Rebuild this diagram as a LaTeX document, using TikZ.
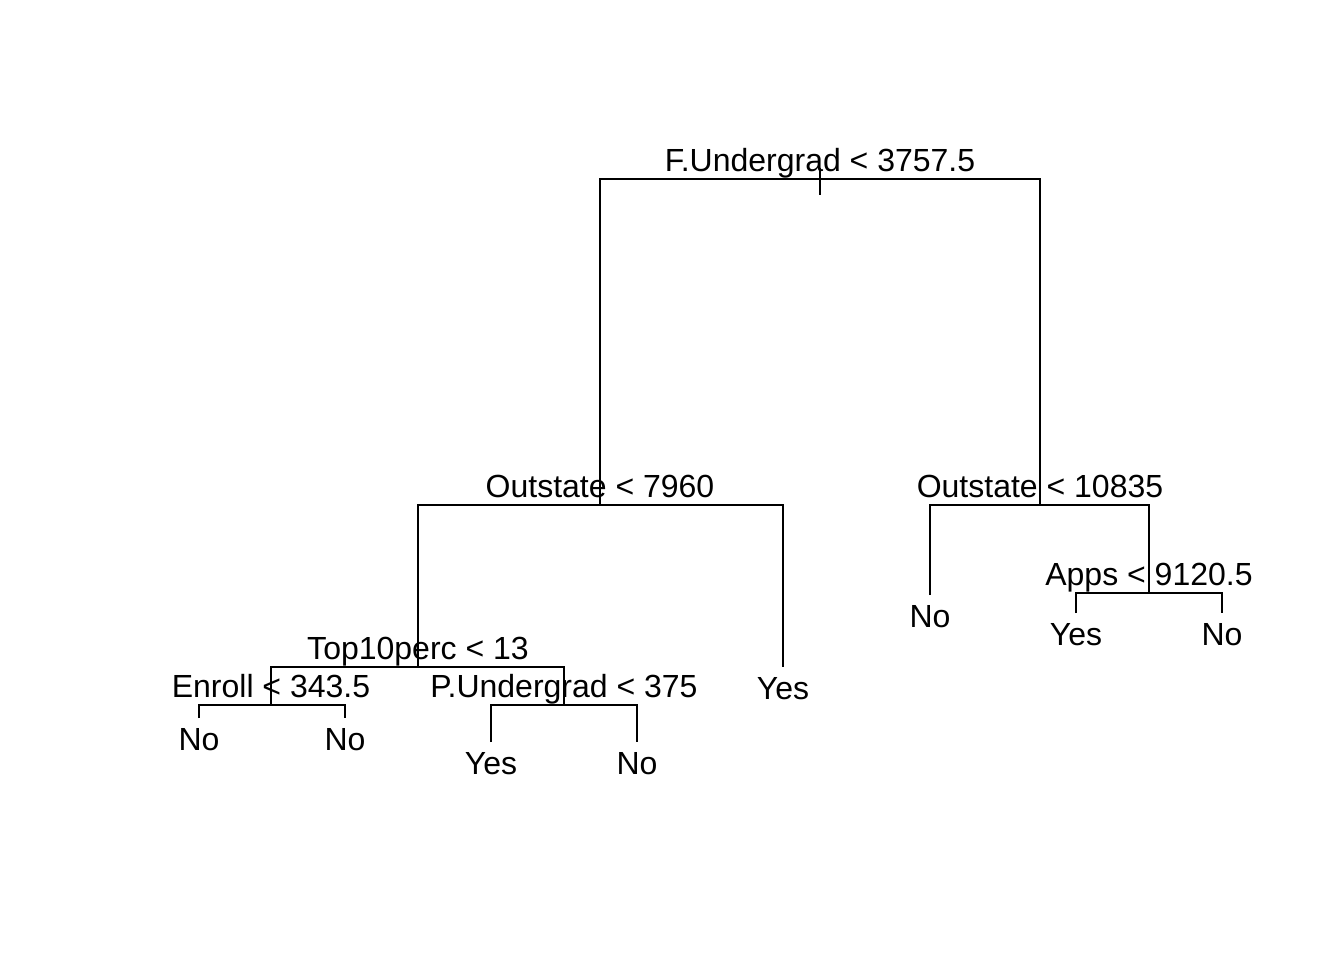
\documentclass[tikz,border=0pt]{standalone}
\usepackage{fontspec}
\setmainfont{Liberation Sans}

\begin{document}
\begin{tikzpicture}[x=0.01cm, y=-0.01cm, line width=0.65pt,
		split/.style={anchor=base, inner sep=0pt, yshift=2.1pt, font=\fontsize{9.1}{11}\selectfont},
		leaf/.style={anchor=base, inner sep=0pt, yshift=-9.1pt, font=\fontsize{9.1}{11}\selectfont}]
		\useasboundingbox (0,0) rectangle (1344,960);
		% split points
		\coordinate (root) at (820,179);
		\coordinate (stubtop) at (820,168);
		\coordinate (stubbot) at (820,195);
		\coordinate (outL) at (600,505);
		\coordinate (outR) at (1040,505);
		\coordinate (top10) at (418,667);
		\coordinate (apps) at (1149,593);
		\coordinate (enroll) at (271,705);
		\coordinate (pug) at (564,705);
		% leaf tips
		\coordinate (tipA) at (783,667);
		\coordinate (tipB) at (930,595);
		\coordinate (tipC) at (1076,613);
		\coordinate (tipD) at (1222,613);
		\coordinate (tipE) at (199,718);
		\coordinate (tipF) at (345,718);
		\coordinate (tipG) at (491,742);
		\coordinate (tipH) at (637,742);
		% branches
		\draw (stubtop) -- (stubbot);
		\draw (outL) |- (root) -| (outR);
		\draw (top10) |- (outL) -| (tipA);
		\draw (tipB) |- (outR) -| (apps);
		\draw (tipC) |- (apps) -| (tipD);
		\draw (enroll) |- (top10) -| (pug);
		\draw (tipE) |- (enroll) -| (tipF);
		\draw (tipG) |- (pug) -| (tipH);
		% labels
		\node[split] (rootLabel) at (root) {F.Undergrad < 3757.5};
		\node[split] (outLLabel) at (outL) {Outstate < 7960};
		\node[split] (outRLabel) at (outR) {Outstate < 10835};
		\node[split] (top10Label) at (top10) {Top10perc < 13};
		\node[split] (appsLabel) at (apps) {Apps < 9120.5};
		\node[split] (enrollLabel) at (enroll) {Enroll < 343.5};
		\node[split] (pugLabel) at (pug) {P.Undergrad < 375};
		\node[leaf] (leafA) at (tipA) {Yes};
		\node[leaf] (leafB) at (tipB) {No};
		\node[leaf] (leafC) at (tipC) {Yes};
		\node[leaf] (leafD) at (tipD) {No};
		\node[leaf] (leafE) at (tipE) {No};
		\node[leaf] (leafF) at (tipF) {No};
		\node[leaf] (leafG) at (tipG) {Yes};
		\node[leaf] (leafH) at (tipH) {No};
\end{tikzpicture}
\end{document}
